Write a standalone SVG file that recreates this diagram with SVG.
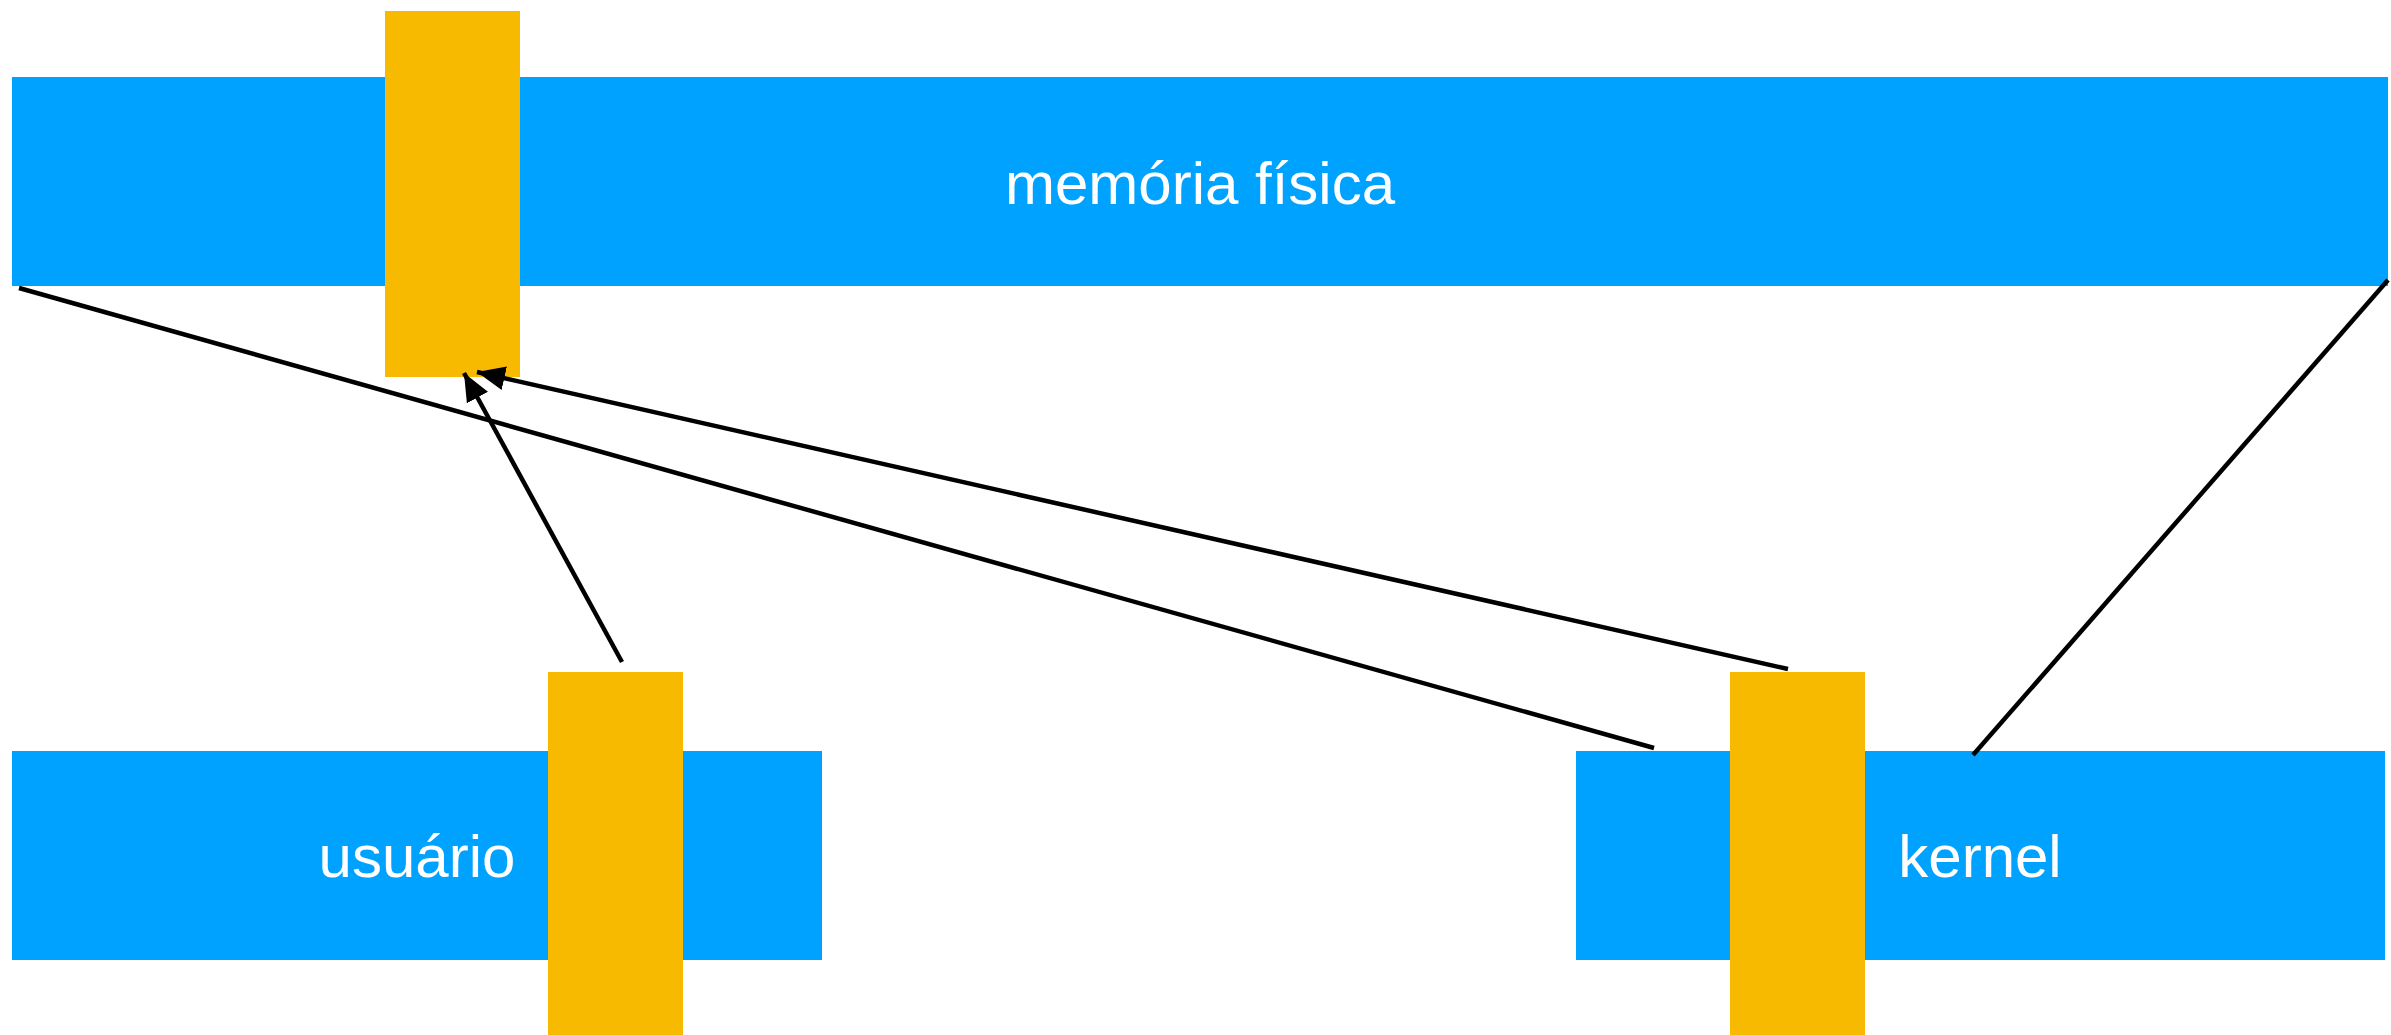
<svg xmlns="http://www.w3.org/2000/svg" width="2391" height="1035" viewBox="0 0 2391 1035">
  <style>
    .blue { fill: #00A2FF; }
    .orange { fill: #F7BA00; }
    .label { font-family: "Liberation Sans", Arial, Helvetica, sans-serif; font-size: 60px; fill: #FFFFFF; text-anchor: middle; }
    .conn { stroke: #000000; stroke-width: 4.5; fill: none; }
  </style>
  <defs>
    <marker id="arrow" markerUnits="userSpaceOnUse" markerWidth="32" markerHeight="28" refX="28" refY="12" orient="auto">
      <path d="M0,0 L28,12 L0,24 Z" fill="#000000"/>
    </marker>
  </defs>
  <rect width="2391" height="1035" fill="#FFFFFF"/>

  <g id="memoria-fisica">
    <rect class="blue" x="12" y="77" width="2376" height="209"/>
    <text class="label" x="1200" y="204">memória física</text>
  </g>
  <g id="pagina-memoria">
    <rect class="orange" x="385" y="11" width="135" height="366"/>
  </g>

  <g id="usuario">
    <rect class="blue" x="12" y="751" width="810" height="209"/>
    <text class="label" x="417" y="877">usuário</text>
  </g>
  <g id="pagina-usuario">
    <rect class="orange" x="548" y="672" width="135" height="363"/>
  </g>

  <g id="kernel">
    <rect class="blue" x="1576" y="751" width="809" height="209"/>
    <text class="label" x="1980" y="877">kernel</text>
  </g>
  <g id="pagina-kernel">
    <rect class="orange" x="1730" y="672" width="135" height="363"/>
  </g>

  <g id="connectors">
    <line class="conn" x1="19" y1="288" x2="1654" y2="748"/>
    <line class="conn" x1="2388" y1="280" x2="1973" y2="755"/>
    <line class="conn" x1="622" y1="662" x2="464" y2="373" marker-end="url(#arrow)"/>
    <line class="conn" x1="1788" y1="669" x2="477" y2="372" marker-end="url(#arrow)"/>
  </g>
</svg>
